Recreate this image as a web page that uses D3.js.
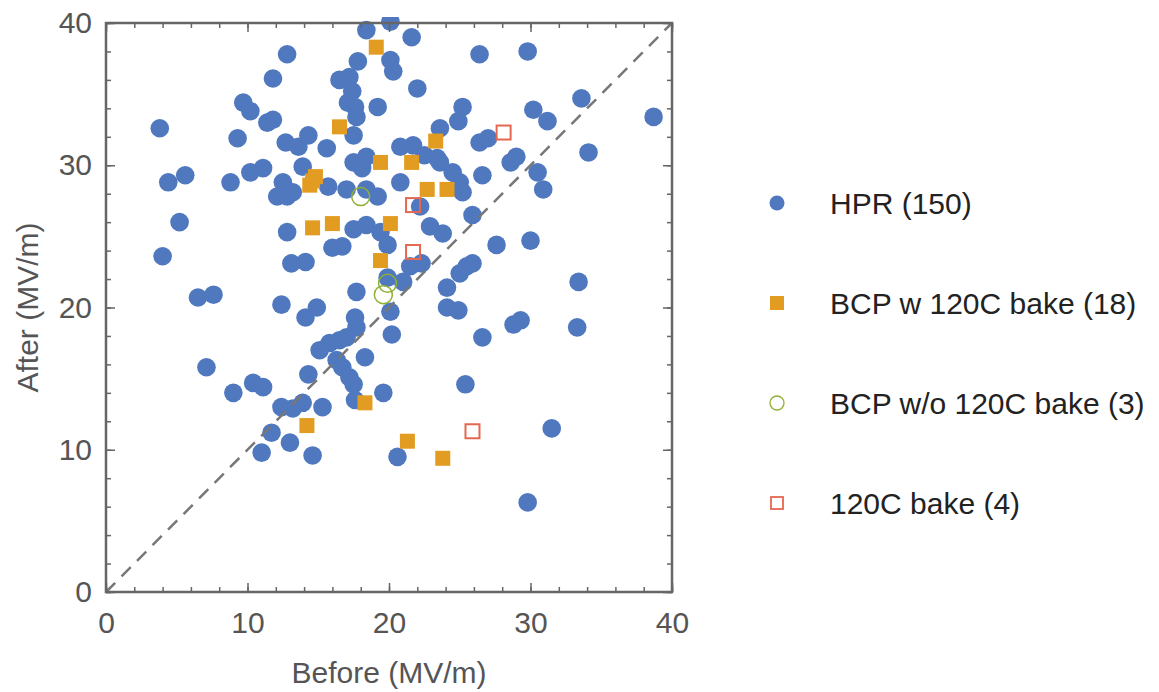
<!DOCTYPE html>
<html>
<head>
<meta charset="utf-8">
<script src="https://cdn.jsdelivr.net/npm/d3@7"></script>
<style>
body { margin: 0; background: #fff; }
text { font-family: "Liberation Sans", Arial, sans-serif; }
</style>
</head>
<body>
<svg width="1159" height="692"></svg>
<script>
// Before / After gradient values (MV/m)
const hpr = [
  [3.8,32.6],[4.4,28.8],[5.6,29.3],[5.2,26.0],[4.0,23.6],[6.5,20.7],[7.6,20.9],[7.1,15.8],
  [9.0,14.0],[10.4,14.7],[11.1,14.4],[8.8,28.8],[9.3,31.9],[9.7,34.4],[10.2,33.8],[10.2,29.5],
  [11.1,29.8],[11.4,33.0],[11.8,33.2],[11.8,36.1],[11.7,11.2],[11.0,9.8],
  [12.8,37.8],[12.7,31.6],[13.6,31.3],[14.3,32.1],[13.9,29.9],[12.5,28.8],[12.1,27.8],[12.8,27.8],
  [13.2,28.1],[15.7,28.5],[15.6,31.2],[12.8,25.3],[13.1,23.1],[14.1,23.2],[12.4,20.2],[14.1,19.3],
  [14.9,20.0],[14.3,15.3],[12.4,13.0],[13.2,12.9],[13.9,13.3],[15.3,13.0],[13.0,10.5],[14.6,9.6],
  [15.1,17.0],[15.8,17.5],
  [18.4,39.5],[20.1,40.1],[17.8,37.3],[20.1,37.4],[20.3,36.6],[16.5,36.0],[17.2,36.2],[17.4,35.2],
  [17.1,34.4],[17.6,34.1],[17.7,33.4],[17.5,32.1],[19.2,34.1],[17.5,30.2],[18.4,30.6],[18.1,29.8],
  [17.0,28.3],[18.4,28.3],[19.2,27.8],
  [20.8,31.3],[21.7,31.4],[22.5,30.7],[23.6,30.2],[24.5,29.5],[20.8,28.8],[23.6,32.6],[25.2,34.1],
  [24.9,33.1],[22.0,35.4],[21.6,39.0],[26.4,37.8],[29.8,38.0],[30.2,33.9],[31.2,33.1],[33.6,34.7],
  [38.7,33.4],[34.1,30.9],[26.4,31.6],[27.0,31.9],[28.6,30.2],[29.0,30.6],[26.6,29.3],[30.5,29.5],
  [30.9,28.3],[25.2,28.1],[22.2,27.1],[25.9,26.5],[22.9,25.7],[23.8,25.2],[27.6,24.4],[30.0,24.7],
  [17.5,25.5],[18.4,25.8],[19.4,25.3],[16.0,24.2],[16.7,24.3],[19.9,22.1],[17.7,21.1],[21.0,21.8],
  [21.5,22.9],[22.3,23.1],[24.1,21.4],[25.0,22.4],[25.9,23.1],[33.4,21.8],[24.1,20.0],[24.9,19.8],
  [28.8,18.8],[29.3,19.1],[33.3,18.6],[26.6,17.9],[17.6,19.3],[17.7,18.6],[20.1,19.7],[20.2,18.1],
  [16.3,16.3],[16.7,15.8],[17.2,15.1],[17.5,14.6],[18.3,16.5],[25.4,14.6],[19.6,14.0],[17.6,13.5],
  [31.5,11.5],[20.6,9.5],[29.8,6.3],[16.5,17.7],[17.0,17.9],[19.9,24.4],[23.4,30.5],[25.0,28.8],
  [25.5,22.9]
];

const bcpBake = [
  [19.1,38.3],[16.5,32.7],[23.3,31.7],[19.4,30.2],[21.6,30.2],[14.4,28.6],[14.8,29.2],[14.6,28.9],
  [22.7,28.3],[24.1,28.3],[14.6,25.6],[16.0,25.9],[20.1,25.9],[19.4,23.3],[18.3,13.3],[14.2,11.7],
  [21.3,10.6],[23.8,9.4]
];

const bcpNoBake = [[18.0,27.8],[19.9,21.7],[19.6,20.9]];

const bakeOnly = [[28.1,32.3],[21.7,27.2],[21.7,23.9],[25.9,11.3]];

const legendLabels = ["HPR (150)", "BCP w 120C bake (18)", "BCP w/o 120C bake (3)", "120C bake (4)"];
const majorTicks = [0, 10, 20, 30, 40];
const minorTicks = d3.range(0, 41, 2);

const blue = "#4f78bf", orange = "#e39c22", green = "#8fb032", red = "#e4684f";
const axisGray = "#666";
const fontSize = 30;

const svg = d3.select("svg");
svg.append("rect").attr("width", 1159).attr("height", 692).attr("fill", "#fff");

const pLeft = 106, pRight = 672, pTop = 23, pBottom = 592;
const x = d3.scaleLinear().domain([0, 40]).range([pLeft, pRight]);
const y = d3.scaleLinear().domain([0, 40]).range([pBottom, pTop]);

svg.append("clipPath").attr("id", "plotclip")
  .append("rect").attr("x", pLeft - 5).attr("y", pTop - 6)
  .attr("width", pRight - pLeft + 10).attr("height", pBottom - pTop + 12);

const plot = svg.append("g").attr("clip-path", "url(#plotclip)");

// HPR
plot.append("g").selectAll("circle")
  .data(hpr)
  .join("circle")
  .attr("cx", d => x(d[0]))
  .attr("cy", d => y(d[1]))
  .attr("r", 9.3)
  .attr("fill", blue);

// BCP with bake
plot.append("g").selectAll("rect")
  .data(bcpBake)
  .join("rect")
  .attr("x", d => x(d[0]) - 7.5)
  .attr("y", d => y(d[1]) - 7.5)
  .attr("width", 15).attr("height", 15)
  .attr("fill", orange);

// BCP without bake
plot.append("g").selectAll("circle")
  .data(bcpNoBake)
  .join("circle")
  .attr("cx", d => x(d[0]))
  .attr("cy", d => y(d[1]))
  .attr("r", 9)
  .attr("fill", "none")
  .attr("stroke", green)
  .attr("stroke-width", 1.5);

// bake only
plot.append("g").selectAll("rect")
  .data(bakeOnly)
  .join("rect")
  .attr("x", d => x(d[0]) - 7)
  .attr("y", d => y(d[1]) - 7)
  .attr("width", 14).attr("height", 14)
  .attr("fill", "none")
  .attr("stroke", red)
  .attr("stroke-width", 2);

// y = x line
svg.append("line")
  .attr("x1", x(0)).attr("y1", y(0))
  .attr("x2", x(40)).attr("y2", y(40))
  .attr("stroke", "#777")
  .attr("stroke-width", 2.5)
  .attr("stroke-dasharray", "13,9");

// frame
svg.append("rect")
  .attr("x", pLeft).attr("y", pTop)
  .attr("width", pRight - pLeft).attr("height", pBottom - pTop)
  .attr("fill", "none")
  .attr("stroke", axisGray)
  .attr("stroke-width", 2.5);

function styleAxis(g) {
  g.select(".domain").remove();
  g.selectAll(".tick line").attr("stroke", axisGray).attr("stroke-width", 1.5);
  g.selectAll(".tick text").attr("fill", "#555").attr("font-size", fontSize)
    .attr("font-family", '"Liberation Sans", Arial, sans-serif');
}

// minor ticks, all four sides
svg.append("g").attr("transform", `translate(0,${pBottom})`)
  .call(d3.axisBottom(x).tickValues(minorTicks).tickSize(-5).tickFormat("")).call(styleAxis);
svg.append("g").attr("transform", `translate(0,${pTop})`)
  .call(d3.axisTop(x).tickValues(minorTicks).tickSize(-5).tickFormat("")).call(styleAxis);
svg.append("g").attr("transform", `translate(${pLeft},0)`)
  .call(d3.axisLeft(y).tickValues(minorTicks).tickSize(-5).tickFormat("")).call(styleAxis);
svg.append("g").attr("transform", `translate(${pRight},0)`)
  .call(d3.axisRight(y).tickValues(minorTicks).tickSize(-5).tickFormat("")).call(styleAxis);

// major ticks with labels
svg.append("g").attr("transform", `translate(0,${pBottom})`)
  .call(d3.axisBottom(x).tickValues(majorTicks).tickSize(-9).tickPadding(20)).call(styleAxis);
svg.append("g").attr("transform", `translate(${pLeft},0)`)
  .call(d3.axisLeft(y).tickValues(majorTicks).tickSize(-9).tickPadding(14)).call(styleAxis);
svg.append("g").attr("transform", `translate(0,${pTop})`)
  .call(d3.axisTop(x).tickValues(majorTicks).tickSize(-9).tickFormat("")).call(styleAxis);
svg.append("g").attr("transform", `translate(${pRight},0)`)
  .call(d3.axisRight(y).tickValues(majorTicks).tickSize(-9).tickFormat("")).call(styleAxis);

// axis titles
svg.append("text")
  .attr("x", (pLeft + pRight) / 2).attr("y", 683)
  .attr("text-anchor", "middle")
  .attr("font-size", fontSize).attr("fill", "#555")
  .text("Before (MV/m)");

svg.append("text")
  .attr("transform", `translate(38,${(pTop + pBottom) / 2}) rotate(-90)`)
  .attr("text-anchor", "middle")
  .attr("font-size", fontSize).attr("fill", "#555")
  .text("After (MV/m)");

// legend
const legend = svg.append("g").attr("transform", "translate(777,203)");
const rowGap = 100;
legendLabels.forEach((label, i) => {
  const row = legend.append("g").attr("transform", `translate(0,${i * rowGap})`);
  if (i === 0) row.append("circle").attr("r", 7.5).attr("fill", blue);
  if (i === 1) row.append("rect").attr("x", -7).attr("y", -7).attr("width", 14).attr("height", 14).attr("fill", orange);
  if (i === 2) row.append("circle").attr("r", 7).attr("fill", "none").attr("stroke", green).attr("stroke-width", 1.3);
  if (i === 3) row.append("rect").attr("x", -6).attr("y", -6).attr("width", 12).attr("height", 12)
    .attr("fill", "none").attr("stroke", red).attr("stroke-width", 1.8);
  row.append("text")
    .attr("x", 53).attr("dy", "0.36em")
    .attr("font-size", fontSize).attr("fill", "#222")
    .text(label);
});
</script>
</body>
</html>
